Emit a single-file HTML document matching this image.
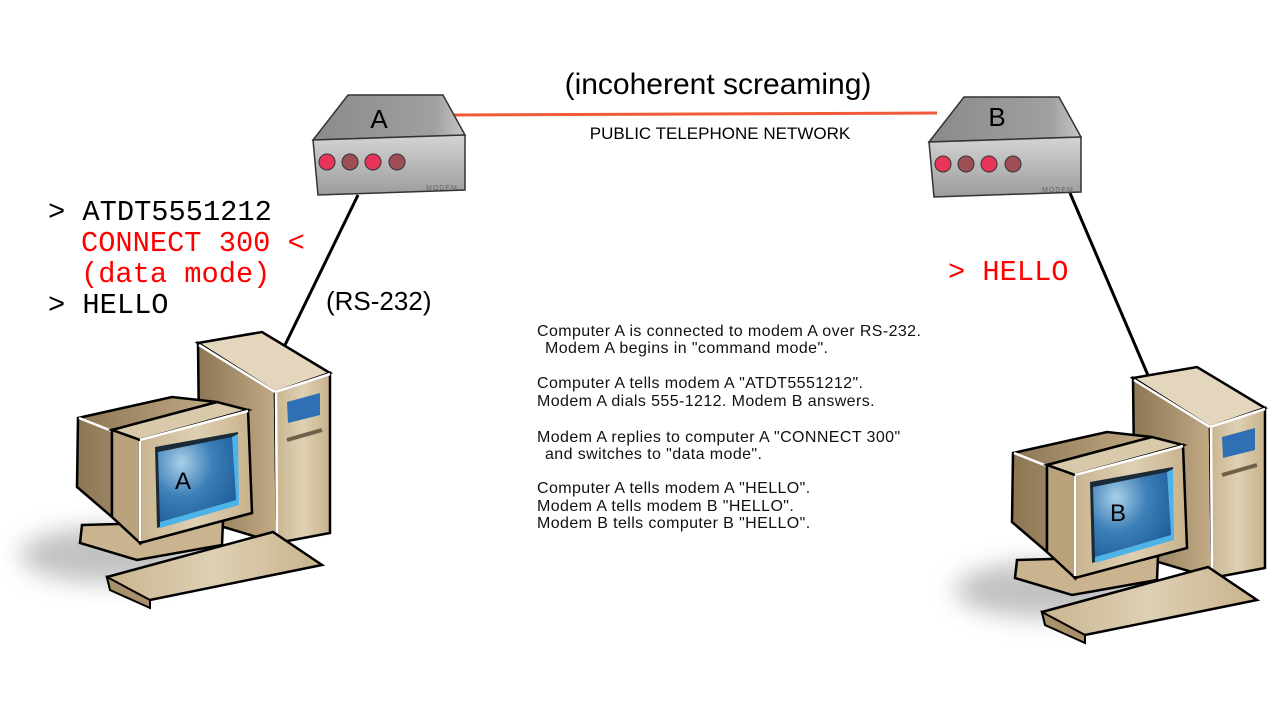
<!DOCTYPE html>
<html><head><meta charset="utf-8"><style>
html,body{margin:0;padding:0;background:#fff;width:1280px;height:720px;overflow:hidden}
svg{display:block}
</style></head><body>
<svg width="1280" height="720" viewBox="0 0 1280 720" xmlns="http://www.w3.org/2000/svg">
<defs>
<linearGradient id="tan" x1="0" y1="0" x2="1" y2="0"><stop offset="0" stop-color="#c9b48f"/><stop offset="0.5" stop-color="#ded0b4"/><stop offset="1" stop-color="#c8b28c"/></linearGradient>
<linearGradient id="tanD" x1="0" y1="0" x2="1" y2="0"><stop offset="0" stop-color="#8c7654"/><stop offset="1" stop-color="#c2ab85"/></linearGradient>
<radialGradient id="scr" cx="0.3" cy="0.3" r="0.8"><stop offset="0" stop-color="#a8d0e8"/><stop offset="0.5" stop-color="#3d7fb8"/><stop offset="1" stop-color="#1f5f9c"/></radialGradient>
<linearGradient id="mg" x1="0" y1="0" x2="0" y2="1"><stop offset="0" stop-color="#d4d4d4"/><stop offset="1" stop-color="#9c9c9c"/></linearGradient>
<linearGradient id="mt" x1="0" y1="0" x2="1" y2="0"><stop offset="0" stop-color="#8a8a8a"/><stop offset="0.8" stop-color="#a0a0a0"/><stop offset="1" stop-color="#c8c8c8"/></linearGradient>
<filter id="bl" x="-100%" y="-200%" width="300%" height="500%"><feGaussianBlur stdDeviation="12"/></filter>
<g id="comp">
<ellipse cx="110" cy="555" rx="90" ry="28" fill="#999" opacity="0.6" filter="url(#bl)"/>
<polygon points="198,343 262,332 330,373 275,392" fill="#e3d6bd" stroke="#000" stroke-width="2.5"/>
<polygon points="198,343 275,392 277,543 200,520" fill="url(#tanD)" stroke="#000" stroke-width="2.5"/>
<polygon points="275,392 330,373 330,533 277,543" fill="url(#tan)" stroke="#000" stroke-width="2.5"/>
<line x1="199" y1="345" x2="275" y2="392" stroke="#fff" stroke-width="2.5"/>
<line x1="275" y1="392" x2="330" y2="374" stroke="#fff" stroke-width="2.5"/>
<line x1="276" y1="393" x2="277" y2="541" stroke="#fff" stroke-width="2.5"/>
<polygon points="287,402 320,393 320,415 288,423" fill="#2f6fb3"/>
<line x1="287" y1="440" x2="322" y2="430" stroke="#6d6149" stroke-width="4"/>
<polygon points="82,525 223,521 222,545 137,560 80,543" fill="#c9b48f" stroke="#000" stroke-width="2.5"/>
<polygon points="78,418 172,397 217,402 112,430 112,517 77,487" fill="url(#tanD)" stroke="#000" stroke-width="2.5"/>
<line x1="79" y1="418" x2="112" y2="431" stroke="#fff" stroke-width="2.5"/>
<polygon points="112,430 217,402 248,410 140,440" fill="#d8c9ab" stroke="#000" stroke-width="2.5"/>
<polygon points="112,430 140,440 140,543 112,517" fill="#b9a27c" stroke="#000" stroke-width="2.5"/>
<polygon points="140,440 248,410 252,513 140,543" fill="url(#tan)" stroke="#000" stroke-width="2.5"/>
<line x1="140" y1="441" x2="140" y2="541" stroke="#fff" stroke-width="2.5"/>
<line x1="140" y1="440" x2="248" y2="411" stroke="#fff" stroke-width="2.5"/>
<polygon points="155,447 238,432 237,503 157,528" fill="#1a2a36"/>
<polygon points="158,452 232,437 236,500 160,522" fill="url(#scr)"/>
<polygon points="232,437 238,434 239,505 160,528 160,522 236,500" fill="#4db3e8"/>
<polygon points="107,577 273,532 322,565 150,600 110,588" fill="url(#tan)" stroke="#000" stroke-width="2.5"/>
<polygon points="107,577 150,600 150,608 110,590" fill="#a8916a" stroke="#000" stroke-width="2"/>
</g>
<g id="modem">
<polygon points="348,95 443,95 465,135 313,140" fill="url(#mt)" stroke="#333" stroke-width="1.5"/>
<polygon points="313,140 465,135 465,190 318,195" fill="url(#mg)" stroke="#333" stroke-width="1.5"/>
<circle cx="327" cy="162" r="8" fill="#e8345a" stroke="#333"/>
<circle cx="350" cy="162" r="8" fill="#9e4f55" stroke="#333"/>
<circle cx="373" cy="162" r="8" fill="#e8345a" stroke="#333"/>
<circle cx="397" cy="162" r="8" fill="#9e4f55" stroke="#333"/>
<text x="426" y="190" font-family="Liberation Sans, sans-serif" font-size="7" fill="#666" letter-spacing="1">MODEM</text>
</g>
</defs>

<line x1="453" y1="115" x2="937" y2="113" stroke="#f05a3a" stroke-width="3"/>
<line x1="358" y1="195" x2="285" y2="345" stroke="#000" stroke-width="3"/>
<line x1="1070" y1="193" x2="1150" y2="380" stroke="#000" stroke-width="3"/>

<use href="#modem"/>
<use href="#modem" transform="translate(616,2)"/>
<use href="#comp"/>
<use href="#comp" transform="translate(935,35)"/>

<g font-family="Liberation Sans, sans-serif" fill="#000">
<text x="379" y="128" font-size="26" text-anchor="middle">A</text>
<text x="997" y="126" font-size="26" text-anchor="middle">B</text>
<text x="183" y="489" font-size="24" text-anchor="middle">A</text>
<text x="1118" y="521" font-size="24" text-anchor="middle">B</text>
<text x="718" y="94" font-size="30" text-anchor="middle">(incoherent screaming)</text>
<text x="720" y="139" font-size="17" text-anchor="middle">PUBLIC TELEPHONE NETWORK</text>
<text x="326" y="310" font-size="26">(RS-232)</text>
</g>
<g font-family="Liberation Mono, monospace" font-size="28.7">
<text x="48" y="220" fill="#000">&gt; ATDT5551212</text>
<text x="81" y="251" fill="#f00">CONNECT 300 &lt;</text>
<text x="81" y="282" fill="#f00">(data mode)</text>
<text x="48" y="313" fill="#000">&gt; HELLO</text>
<text x="948" y="280" fill="#f00">&gt; HELLO</text>
</g>
<g font-family="Liberation Sans, sans-serif" font-size="16" fill="#111" letter-spacing="0.4">
<text x="537" y="336">Computer A is connected to modem A over RS-232.</text>
<text x="545" y="353">Modem A begins in "command mode".</text>
<text x="537" y="388">Computer A tells modem A "ATDT5551212".</text>
<text x="537" y="406">Modem A dials 555-1212.  Modem B answers.</text>
<text x="537" y="442">Modem A replies to computer A "CONNECT 300"</text>
<text x="545" y="459">and switches to "data mode".</text>
<text x="537" y="493">Computer A tells modem A "HELLO".</text>
<text x="537" y="511">Modem A tells modem B "HELLO".</text>
<text x="537" y="528">Modem B tells computer B "HELLO".</text>
</g>
</svg>
</body></html>
